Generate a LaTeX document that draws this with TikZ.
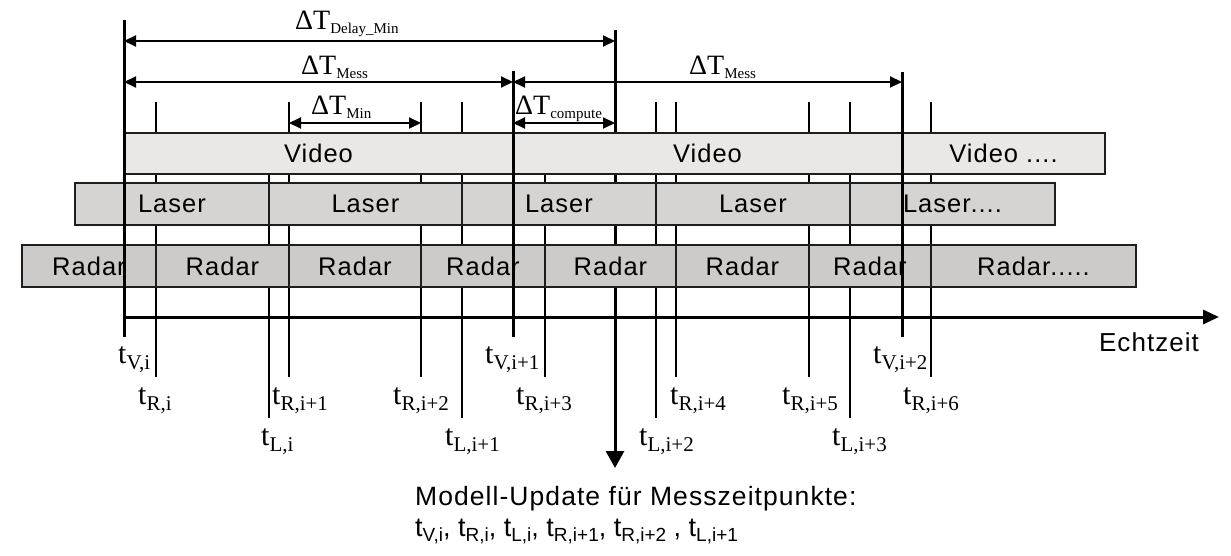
\documentclass[tikz,border=0pt]{standalone}
\usepackage{fontspec}
\setmainfont{Liberation Serif}
\newfontfamily\arial[LetterSpace=4]{Liberation Sans}
\newfontfamily\arialn{Liberation Sans}
\usetikzlibrary{arrows.meta}
\definecolor{videofill}{RGB}{233,232,231}
\definecolor{laserfill}{RGB}{213,212,211}
\definecolor{radarfill}{RGB}{204,203,202}
\definecolor{rand}{RGB}{30,30,30}
\newcommand\tlab[1]{{\fontsize{30}{30}\selectfont t}\raisebox{-6pt}{\fontsize{21}{21}\selectfont #1}}
\newcommand\dTlab[1]{{\fontsize{28}{28}\selectfont ΔT}\raisebox{-4pt}{\fontsize{15}{15}\selectfont #1}}
\newcommand\tsub[1]{t\raisebox{-5pt}{\fontsize{19}{19}\selectfont #1}}
\tikzset{
  balken/.style={draw=rand, line width=1.8pt, inner sep=0pt, outer sep=0pt,
    font=\arial\fontsize{25.5}{26}\selectfont},
  video/.style={balken, fill=videofill, minimum height=41pt},
  laser/.style={balken, fill=laserfill, minimum height=42pt},
  radar/.style={balken, fill=radarfill, minimum height=42pt},
  zeit/.style={line width=2pt},
  vzeit/.style={line width=3pt},
  mass/.style={line width=2pt, {Triangle[length=12pt,width=11pt]}-{Triangle[length=12pt,width=11pt]}},
  lab/.style={anchor=base west, inner sep=0pt},
}
\begin{document}
\begin{tikzpicture}[x=1pt,y=-1pt]
\useasboundingbox (0,0) rectangle (1231,556);
% Messzeitpunkte Radar und Laser
\foreach \n/\x/\yo/\yu in {Ri/156/102/377, Ri1/289/102/377, Ri2/421/102/377, Ri3/545/174/377,
    Ri4/676/102/377, Ri5/809/102/377, Ri6/931/102/377,
    Li/269/174/418, Li1/462/102/418, Li2/656/102/418, Li3/850/102/418}{
  \coordinate (\n-o) at (\x,\yo);
  \coordinate (\n-u) at (\x,\yu);
  \draw[zeit] (\n-o) -- (\n-u);
}
% Modell-Update
\coordinate (upd-o) at (615,30);
\coordinate (upd-u) at (615,468);
\draw[vzeit, -{Triangle[length=17pt,width=18pt]}] (upd-o) -- (upd-u);
% Balken
\foreach \n/\xa/\xb/\txt in {v1/124/513/Video, v2/513/902/Video, v3/902/1105/{Video ....}}
  \node[video, minimum width=\xb pt-\xa pt] (\n) at ({(\xa+\xb)/2},153.5) {\txt};
\foreach \n/\xa/\xb/\txt in {l1/75/269/Laser, l2/269/462/Laser, l3/462/656/Laser,
    l4/656/850/Laser, l5/850/1055/{Laser....}}
  \node[laser, minimum width=\xb pt-\xa pt] (\n) at ({(\xa+\xb)/2},204) {\txt};
\foreach \n/\xa/\xb/\txt in {r1/22/156/Radar, r2/156/289/Radar, r3/289/421/Radar, r4/421/545/Radar,
    r5/545/676/Radar, r6/676/809/Radar, r7/809/931/Radar, r8/931/1136/{Radar.....}}
  \node[radar, minimum width=\xb pt-\xa pt] (\n) at ({(\xa+\xb)/2},266) {\txt};
% Zeitachse
\coordinate (ax-a) at (124,317);
\coordinate (ax-e) at (1219,317);
\draw[vzeit, -{Triangle[length=16pt,width=14pt]}] (ax-a) -- (ax-e);
\node[anchor=base, inner sep=0pt, font=\arial\fontsize{26}{26}\selectfont] (echtzeit) at (1149,351) {Echtzeit};
% Messzeitpunkte Video
\foreach \n/\x/\yo in {Vi/124/20, Vi1/513/71, Vi2/902/72}{
  \coordinate (\n-o) at (\x,\yo);
  \coordinate (\n-u) at (\x,337);
  \draw[vzeit] (\n-o) -- (\n-u);
}
% Masspfeile
\coordinate (dly-l) at (124,41);  \coordinate (dly-r) at (615,41);
\coordinate (ms1-l) at (124,82);  \coordinate (ms1-r) at (513,82);
\coordinate (ms2-l) at (513,82);  \coordinate (ms2-r) at (902,82);
\coordinate (min-l) at (289,123); \coordinate (min-r) at (421,123);
\coordinate (cmp-l) at (513,123); \coordinate (cmp-r) at (615,123);
\draw[mass] (dly-l) -- (dly-r);
\draw[mass] (ms1-l) -- (ms1-r);
\draw[mass] (ms2-l) -- (ms2-r);
\draw[mass] (min-l) -- (min-r);
\draw[mass] (cmp-l) -- (cmp-r);
\node[lab] (dly) at (295,30)  {\dTlab{Delay\_Min}};
\node[lab] (ms1) at (301,75)  {\dTlab{Mess}};
\node[lab] (ms2) at (689,75)  {\dTlab{Mess}};
\node[lab] (min) at (311,115) {\dTlab{Min}};
\node[lab] (cmp) at (515,115) {\dTlab{compute}};
% Beschriftung der Zeitpunkte
\node[lab] (lVi)  at (118,363) {\tlab{V,i}};
\node[lab] (lVi1) at (485,363) {\tlab{V,i+1}};
\node[lab] (lVi2) at (873,363) {\tlab{V,i+2}};
\node[lab] (lRi)  at (138,404) {\tlab{R,i}};
\node[lab] (lRi1) at (272,404) {\tlab{R,i+1}};
\node[lab] (lRi2) at (393,404) {\tlab{R,i+2}};
\node[lab] (lRi3) at (516,404) {\tlab{R,i+3}};
\node[lab] (lRi4) at (670,404) {\tlab{R,i+4}};
\node[lab] (lRi5) at (782,404) {\tlab{R,i+5}};
\node[lab] (lRi6) at (903,404) {\tlab{R,i+6}};
\node[lab] (lLi)  at (261,445) {\tlab{L,i}};
\node[lab] (lLi1) at (445,445) {\tlab{L,i+1}};
\node[lab] (lLi2) at (639,445) {\tlab{L,i+2}};
\node[lab] (lLi3) at (832,445) {\tlab{L,i+3}};
% Modell-Update
\node[lab, font=\arial\fontsize{26.5}{27}\selectfont] (upd1) at (415,505) {Modell-Update für Messzeitpunkte:};
\node[lab, font=\arialn\fontsize{27}{27}\selectfont] (upd2) at (415,536)
  {\tsub{V,i}, \tsub{R,i}, \tsub{L,i}, \tsub{R,i+1}, \tsub{R,i+2} , \tsub{L,i+1}};
\end{tikzpicture}
\end{document}
